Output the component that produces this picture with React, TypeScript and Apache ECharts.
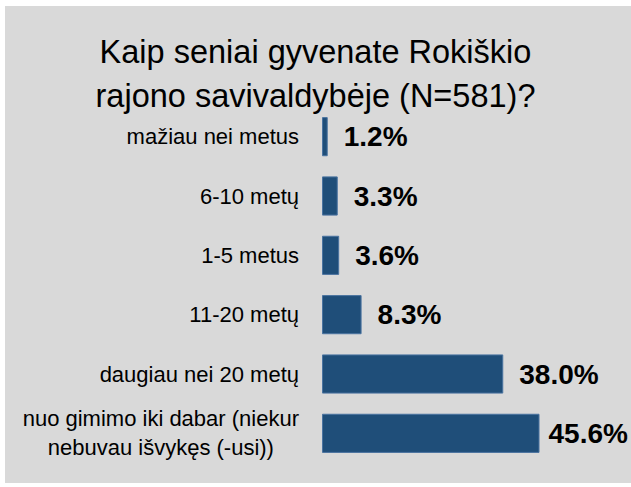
import React, { useEffect, useRef } from "react";
import * as echarts from "echarts";

const titleText = "Kaip seniai gyvenate Rokiškio\nrajono savivaldybėje (N=581)?";
const categories = [
  "mažiau nei metus",
  "6-10 metų",
  "1-5 metus",
  "11-20 metų",
  "daugiau nei 20 metų",
  "nuo gimimo iki dabar (niekur\nnebuvau išvykęs (-usi))",
];
const values = [1.2, 3.3, 3.6, 8.3, 38.0, 45.6];

const FONT = "Liberation Sans";

export default function App() {
  const ref = useRef<HTMLDivElement>(null);
  useEffect(() => {
    document.body.style.margin = "0";
    const chart = echarts.init(ref.current!, null, { renderer: "svg" });
    chart.setOption({
      animation: false,
      backgroundColor: "#ffffff",
      graphic: [
        {
          type: "rect",
          z: -10,
          silent: true,
          shape: { x: 5, y: 6, width: 626, height: 477 },
          style: { fill: "#d9d9d9" },
        },
      ],
      title: {
        text: titleText,
        left: "center",
        top: 30,
        padding: [0, 0, 0, 5],
        textStyle: {
          fontFamily: FONT,
          fontWeight: "normal",
          fontSize: 32.5,
          lineHeight: 44,
          color: "#000000",
        },
      },
      grid: { left: 322, top: 107, height: 356, right: 70.5 },
      xAxis: {
        type: "value",
        min: 0,
        max: 50,
        show: false,
      },
      yAxis: {
        type: "category",
        inverse: true,
        data: categories,
        axisLine: { show: false },
        axisTick: { show: false },
        axisLabel: {
          margin: 23,
          fontFamily: FONT,
          fontSize: 22,
          color: "#000000",
          lineHeight: 29,
          align: "right",
          formatter: (v: string) =>
            v
              .split("\n")
              .map((s) => "{c|" + s + "}")
              .join("\n"),
          rich: {
            c: {
              align: "center",
              fontFamily: FONT,
              fontSize: 22,
              lineHeight: 29,
              color: "#000000",
            },
          },
        },
      },
      series: [
        {
          type: "bar",
          barCategoryGap: "34%",
          data: values.map((v, i) =>
            i === values.length - 1
              ? { value: v, label: { distance: 9 } }
              : { value: v }
          ),
          itemStyle: {
            color: "#1f4e79",
            borderColor: "#4a73a0",
            borderWidth: 1,
          },
          label: {
            show: true,
            position: "right",
            distance: 16,
            fontFamily: FONT,
            fontWeight: "bold",
            fontSize: 28,
            color: "#000000",
            formatter: (p: any) => Number(p.value).toFixed(1) + "%",
          },
        },
      ],
    });
    return () => chart.dispose();
  }, []);
  return <div ref={ref} style={{ width: 631, height: 487 }} />;
}
